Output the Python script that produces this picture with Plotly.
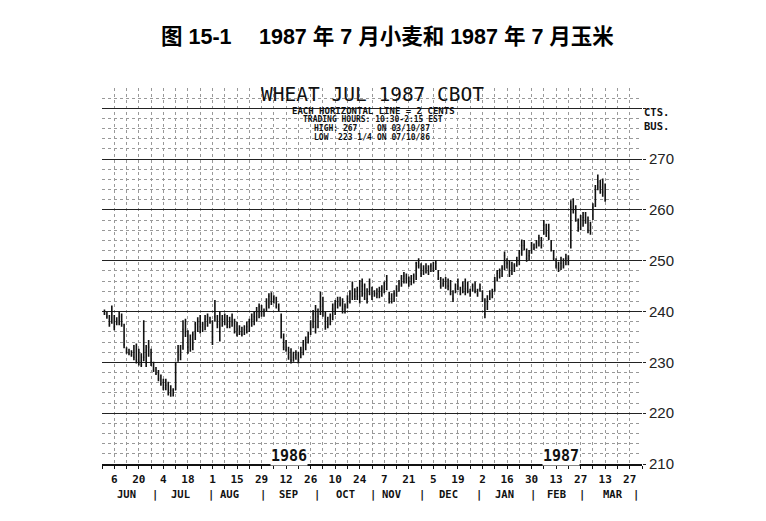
import pandas as pd
import plotly.graph_objects as go

# ---------------- data (cents per bushel), daily bars Jun 2 1986 .. Mar 13 1987 ----------------
start_date = "1986-06-02"

highs = [
    240.4, 239.9, 239.3, 241.2, 239.3, 238.9, 239.9, 239.6, 237.6, 233.0, 232.7, 232.4, 233.4, 233.7, 232.7,
    231.8, 238.3, 233.4, 234.4, 232.7, 230.1, 229.1, 228.5, 227.6, 226.8, 226.8, 226.2, 225.5, 224.9, 230.1,
    233.4, 233.4, 238.3, 238.6, 236.3, 235.5, 236.0, 238.0, 238.9, 239.3, 238.0, 239.3, 239.6, 239.0,
    238.3, 242.3, 239.3, 240.0, 239.3, 239.6, 239.3, 239.0, 239.6, 238.6, 238.0, 237.3, 237.0, 237.3, 238.0,
    238.6, 239.6, 240.0, 240.9, 241.6, 241.3, 240.6, 242.6, 243.6, 243.8, 243.2, 242.9, 241.6, 239.6, 235.7,
    234.4, 233.1, 232.8, 232.1, 232.4, 232.1, 233.1, 234.4, 235.1, 236.0, 238.3, 240.3,
    241.3, 240.6, 243.9, 242.9, 240.0, 239.0, 239.6, 241.6, 242.3, 242.9, 242.9, 242.6, 241.6, 243.2, 244.2,
    245.9, 244.6, 244.9, 246.2, 246.5, 245.5, 244.6, 246.5, 244.9, 244.2, 244.6, 244.9, 245.2, 245.9, 247.2,
    243.9, 243.6, 244.2, 245.2, 246.2, 247.2, 247.8, 247.5, 246.9, 247.2, 247.5, 249.8,
    250.5, 249.5, 249.1, 249.5, 249.1, 249.5, 249.8, 250.1, 248.2, 246.8, 246.5, 246.8, 246.5, 246.2, 244.2,
    245.5, 246.5, 244.9, 245.9, 246.5, 245.9, 244.5, 245.5, 245.9, 244.5, 245.5, 244.2, 242.6, 243.2, 244.2,
    244.5, 246.8, 248.2, 248.5, 249.1, 251.8, 250.5, 250.1, 249.8, 249.5, 250.8, 252.1, 254.2,
    254.1, 252.4, 252.1, 253.7, 253.4, 254.1, 255.1, 254.7, 258.0, 257.3, 257.3, 254.1, 252.1, 250.5, 249.8,
    250.8, 250.5, 251.4, 251.1,
    261.9, 262.3, 260.9, 258.3, 259.0, 259.6, 259.6, 258.7, 257.7, 261.3, 264.9, 267.0, 265.9, 266.2, 265.2,
]
lows = [
    239.3, 238.6, 237.0, 237.6, 236.3, 237.3, 237.3, 237.0, 232.8, 231.7, 231.4, 231.1, 230.4, 229.8, 229.4,
    229.1, 230.2, 229.1, 231.1, 229.3, 228.1, 227.5, 226.3, 225.4, 224.5, 224.5, 223.5, 223.25, 223.3, 224.5,
    230.1, 230.4, 232.5, 235.0, 231.7, 232.1, 232.4, 234.4, 236.0, 235.7, 236.0, 236.3, 237.0, 237.6,
    233.4, 238.0, 236.7, 234.1, 237.0, 237.3, 236.7, 236.7, 237.0, 235.7, 235.1, 235.4, 235.1, 235.4, 235.7,
    236.0, 237.0, 237.3, 238.0, 238.7, 239.0, 239.0, 240.0, 240.6, 241.3, 241.6, 240.6, 240.0, 234.7, 232.4,
    232.1, 230.5, 229.8, 230.1, 230.5, 229.8, 230.8, 231.4, 232.4, 233.7, 235.4, 236.7,
    235.7, 236.7, 239.3, 239.0, 236.4, 236.7, 237.3, 238.3, 239.3, 240.6, 241.0, 239.6, 239.6, 240.6, 241.6,
    242.3, 242.3, 242.3, 241.6, 242.9, 242.3, 241.6, 243.2, 242.3, 242.9, 242.6, 242.6, 242.9, 243.6, 244.2,
    241.6, 241.6, 241.9, 242.9, 243.9, 244.9, 245.5, 245.5, 244.9, 245.2, 245.5, 246.2,
    248.5, 246.8, 247.2, 247.5, 247.2, 247.8, 247.8, 248.2, 246.2, 244.5, 244.9, 244.5, 244.2, 243.2, 241.9,
    243.6, 244.2, 243.2, 243.6, 243.2, 243.6, 242.9, 243.9, 243.6, 242.9, 243.9, 241.9, 238.7, 240.3, 242.3,
    242.6, 243.9, 245.9, 246.5, 246.8, 248.2, 248.5, 246.8, 247.2, 247.8, 248.8, 249.1, 251.0,
    252.1, 249.8, 250.1, 251.4, 252.1, 252.4, 252.8, 252.4, 255.1, 254.7, 254.1, 251.8, 250.1, 248.5, 247.8,
    248.2, 248.5, 249.1, 249.1,
    252.4, 259.3, 257.7, 255.7, 256.0, 256.7, 257.3, 255.4, 255.1, 258.0, 260.6, 263.9, 263.2, 262.6, 261.6,
]
closes = [
    239.6, 239.0, 237.5, 240.0, 237.0, 238.0, 239.0, 237.5, 233.5, 232.0, 231.8, 231.5, 231.0, 230.5, 230.0,
    229.5, 231.0, 230.0, 233.0, 230.0, 228.5, 227.8, 226.8, 225.8, 225.0, 225.5, 224.0, 224.5, 224.5, 229.5,
    232.0, 231.5, 236.5, 236.0, 233.0, 234.5, 235.5, 237.5, 238.0, 237.0, 237.5, 238.5, 239.0, 238.0,
    235.0, 239.0, 237.5, 236.0, 238.5, 238.0, 237.5, 237.0, 238.0, 236.0, 235.5, 236.0, 235.5, 236.5, 237.0,
    238.0, 238.5, 239.0, 240.0, 241.0, 240.0, 240.0, 242.0, 243.0, 242.0, 242.5, 241.0, 240.5, 235.0, 233.0,
    232.5, 231.0, 230.5, 231.0, 231.5, 230.5, 232.5, 233.5, 234.5, 235.0, 237.5, 239.5,
    237.0, 239.0, 241.0, 240.0, 237.0, 237.5, 239.0, 240.5, 241.5, 242.0, 241.5, 240.5, 241.0, 242.5, 243.5,
    245.0, 243.0, 244.0, 243.0, 245.0, 243.5, 242.5, 245.5, 243.0, 243.5, 243.5, 244.0, 244.5, 245.5, 246.0,
    242.5, 242.5, 243.5, 244.5, 245.5, 246.5, 247.0, 246.5, 246.0, 246.5, 247.0, 249.5,
    249.0, 247.5, 248.0, 248.5, 248.0, 249.0, 248.5, 249.5, 246.5, 245.0, 245.5, 246.0, 245.0, 243.5, 242.5,
    244.5, 245.0, 243.5, 245.0, 244.5, 244.0, 243.5, 245.0, 244.0, 243.5, 244.5, 242.5, 239.5, 242.0, 243.5,
    244.0, 246.0, 247.5, 247.0, 248.5, 251.0, 249.5, 248.0, 248.5, 249.0, 250.0, 251.5, 253.0,
    253.0, 250.5, 251.0, 253.0, 252.5, 253.5, 254.5, 253.0, 257.0, 255.5, 254.5, 252.0, 250.5, 249.0, 248.5,
    249.5, 249.0, 250.5, 250.5,
    260.5, 260.0, 258.0, 256.5, 258.0, 258.5, 258.0, 256.0, 257.0, 260.5, 264.0, 265.5, 264.5, 263.5, 262.0,
]

price_ticks = [210, 220, 230, 240, 250, 260, 270, 280]
price_labels = ["210", "220", "230", "240", "250", "260", "270", ""]
months = ["JUN", "JUL", "AUG", "SEP", "OCT", "NOV", "DEC", "JAN", "FEB", "MAR"]
month_centers = ["1986-06-13", "1986-07-15", "1986-08-12", "1986-09-15", "1986-10-16",
                 "1986-11-12", "1986-12-15", "1987-01-15", "1987-02-13", "1987-03-18"]
month_ends = ["1986-06-30", "1986-07-31", "1986-08-29", "1986-09-30", "1986-10-31",
              "1986-11-28", "1986-12-31", "1987-01-30", "1987-02-27", "1987-03-31"]

dates = pd.bdate_range(start=start_date, periods=len(highs))
fridays = pd.date_range("1986-05-30", "1987-04-03", freq="W-FRI")
fri_text = [str(d.day) if i % 2 == 1 else "" for i, d in enumerate(fridays)]

# ---------------- geometry (page body has an 8px margin) ----------------
OFF = 8
L, R, T, B = 94, 124, 80, 57
W, H = 758, 513
PW, PH = W - L - R, H - T - B


def px(xs):
    """screen pixel x -> paper x"""
    return (xs - OFF - L) / PW


def py(ys):
    """screen pixel y -> paper y"""
    return (H - B - (ys - OFF)) / PH


MONO = "DejaVu Sans Mono"

fig = go.Figure()
fig.add_trace(go.Ohlc(
    x=dates, open=closes, high=highs, low=lows, close=closes,
    increasing=dict(line=dict(color="#111", width=1.6)),
    decreasing=dict(line=dict(color="#111", width=1.6)),
    tickwidth=0.35, hoverinfo="skip", showlegend=False,
))

ann = []
ann.append(dict(text="图 15-1　 1987 年 7 月小麦和 1987 年 7 月玉米", x=px(387), y=py(37),
                xref="paper", yref="paper", showarrow=False, xanchor="center", yanchor="middle",
                font=dict(family="Liberation Sans, Noto Sans CJK SC", size=21.5, color="#000", weight="bold")))
ann.append(dict(text="WHEAT JUL 1987 CBOT", x=px(372), y=py(94), xref="paper", yref="paper",
                showarrow=False, xanchor="center", yanchor="middle", borderpad=0,
                font=dict(family=MONO, size=19.5, color="#111")))
ann.append(dict(text="EACH HORIZONTAL LINE = 2 CENTS", x=px(373), y=py(110.5), xref="paper", yref="paper",
                showarrow=False, xanchor="center", yanchor="middle", borderpad=0,
                font=dict(family=MONO, size=9, color="#111", weight="bold")))
ann.append(dict(text="TRADING HOURS: 10:30-2:15 EST", x=px(373), y=py(119.5), xref="paper", yref="paper",
                showarrow=False, xanchor="center", yanchor="middle", borderpad=0,
                font=dict(family=MONO, size=8, color="#111", weight="bold")))
for txt, xx, yy in [("HIGH: 267", 313, 128), ("ON 03/10/87", 376, 128),
                    ("LOW  223 1/4", 313, 137.5), ("ON 07/10/86", 376, 137.5)]:
    ann.append(dict(text=txt, x=px(xx), y=py(yy), xref="paper", yref="paper", showarrow=False,
                    xanchor="left", yanchor="middle", borderpad=0,
                    font=dict(family=MONO, size=8, color="#111", weight="bold")))
for txt, yy in [("CTS.", 112), ("BUS.", 126)]:
    ann.append(dict(text=txt, x=px(643), y=py(yy), xref="paper", yref="paper", showarrow=False,
                    xanchor="left", yanchor="middle", borderpad=0,
                    font=dict(family=MONO, size=10.5, color="#111", weight="bold")))
for txt, dx in [("1986", "1986-09-15"), ("1987", "1987-02-17")]:
    ann.append(dict(text=txt, x=dx, y=py(456), xref="x", yref="paper", showarrow=False,
                    xanchor="center", yanchor="middle", bgcolor="white", borderpad=0,
                    font=dict(family=MONO, size=15, color="#111", weight="bold")))
for m, c in zip(months, month_centers):
    ann.append(dict(text=m, x=c, y=py(494), xref="x", yref="paper", showarrow=False,
                    xanchor="center", yanchor="middle", borderpad=0,
                    font=dict(family=MONO, size=10.5, color="#111", weight="bold")))
for e in month_ends:
    ann.append(dict(text="|", x=e + " 12:00", y=py(494), xref="x", yref="paper", showarrow=False,
                    xanchor="center", yanchor="middle", borderpad=0,
                    font=dict(family=MONO, size=10.5, color="#111", weight="bold")))

fig.update_layout(
    width=W, height=H, margin=dict(l=L, r=R, t=T, b=B),
    paper_bgcolor="white", plot_bgcolor="white",
    annotations=ann, showlegend=False,
    xaxis=dict(
        type="date", range=["1986-05-30", "1987-04-03"],
        rangebreaks=[dict(bounds=["sat", "mon"])],
        rangeslider=dict(visible=False),
        tickmode="array", tickvals=fridays, ticktext=fri_text,
        showgrid=True, gridcolor="#999", gridwidth=1, griddash="dot",
        showline=True, linecolor="#111", linewidth=1.6,
        ticks="outside", ticklen=3, tickcolor="#111", tickwidth=1,
        ticklabelstandoff=1,
        tickfont=dict(family=MONO, size=11, color="#111", weight="bold"),
        zeroline=False,
    ),
    yaxis=dict(
        range=[210, 284], side="right",
        tickmode="array", tickvals=price_ticks, ticktext=price_labels,
        showgrid=True, gridcolor="#222", gridwidth=1.4,
        ticks="outside", ticklen=3, tickcolor="#222", tickwidth=1.4,
        tickfont=dict(family="Liberation Sans", size=15, color="#222"),
        minor=dict(tickmode="linear", tick0=210, dtick=2, showgrid=True,
                   gridcolor="#999", gridwidth=1, griddash="dot", ticks=""),
        zeroline=False, showline=False,
    ),
)

fig.write_html("out.html")
